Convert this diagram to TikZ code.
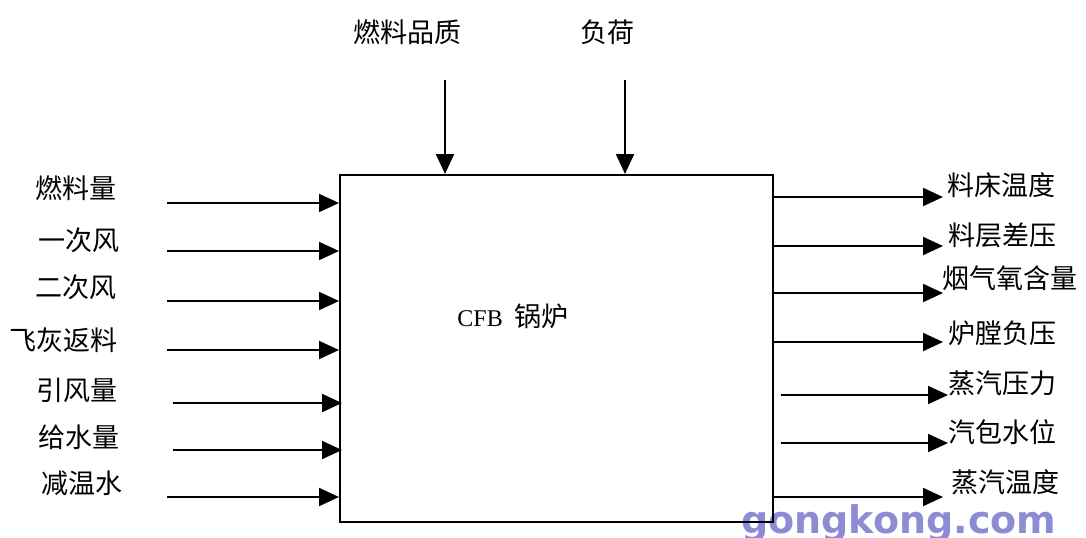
\documentclass[tikz,border=0pt]{standalone}
\usepackage{fontspec}
\setmainfont{Liberation Serif}
\newfontfamily\cjk{Noto Sans CJK SC}
\newfontfamily\wmfont{DejaVu Sans}
\usetikzlibrary{arrows.meta}
\definecolor{wmblue}{RGB}{140,140,212}
\begin{document}
\begin{tikzpicture}[x=0.5pt,y=-0.5pt,
  lbl/.style={font=\cjk\fontsize{13.5}{14}\selectfont, inner sep=0pt},
  flow/.style={line width=1pt, -{Triangle[length=10pt,width=9pt]}}]
\useasboundingbox (0,0) rectangle (1086,537);
\fill[white] (0,0) rectangle (1086,537);
% watermark
\node[font=\wmfont\bfseries\fontsize{19}{19}\selectfont, text=wmblue, anchor=base west, inner sep=0pt] (wm) at (741,533) {gongkong.com};
% boiler
\node[draw, line width=1pt, inner sep=0pt, minimum width=216.5pt, minimum height=173.5pt] (boiler) at (556.5,348.5) {};
\node[anchor=base west, inner sep=0pt] (title) at (457,326) {\fontsize{12}{13}\selectfont CFB\hspace{6pt}{\cjk\fontsize{13.5}{14}\selectfont 锅炉}};
% top inputs
\node[lbl] (q) at (407,32) {燃料品质};
\node[lbl] (f) at (607,32) {负荷};
\coordinate (qs) at (445,80);
\coordinate (fs) at (625,80);
\draw[flow] (qs) -- (qs |- boiler.north);
\draw[flow] (fs) -- (fs |- boiler.north);
% left inputs
\foreach \name/\txt/\lx/\ly/\sx/\ay/\ex in {
  i1/燃料量/117/188/167/203/0,
  i2/一次风/120/240/167/251/0,
  i3/二次风/117/287/167/301/0,
  i4/飞灰返料/118/340/167/350/0,
  i5/引风量/118/390/173/403/3,
  i6/给水量/120/437/173/450/3,
  i7/减温水/123/483/167/497/0}{
  \node[lbl, anchor=east] (\name) at (\lx,\ly) {\txt};
  \coordinate (\name s) at (\sx,\ay);
  \draw[flow] (\name s) -- ([xshift=\ex*0.5pt]\name s -| boiler.west);
}
% right outputs
\foreach \name/\txt/\lx/\ly/\sx/\ay/\tx in {
  o1/料床温度/947/185/0/197/943,
  o2/料层差压/948/235/0/246/943,
  o3/烟气氧含量/942/278/0/293/943,
  o4/炉膛负压/948/333/0/342/943,
  o5/蒸汽压力/948/383/7/395/948,
  o6/汽包水位/948/432/7/443/948,
  o7/蒸汽温度/951/482/0/497/943}{
  \node[lbl, anchor=west] (\name) at (\lx,\ly) {\txt};
  \coordinate (\name s) at (0,\ay);
  \coordinate (\name e) at (\tx,\ay);
  \draw[flow] ([xshift=\sx*0.5pt]\name s -| boiler.east) -- (\name e);
}
\end{tikzpicture}
\end{document}
